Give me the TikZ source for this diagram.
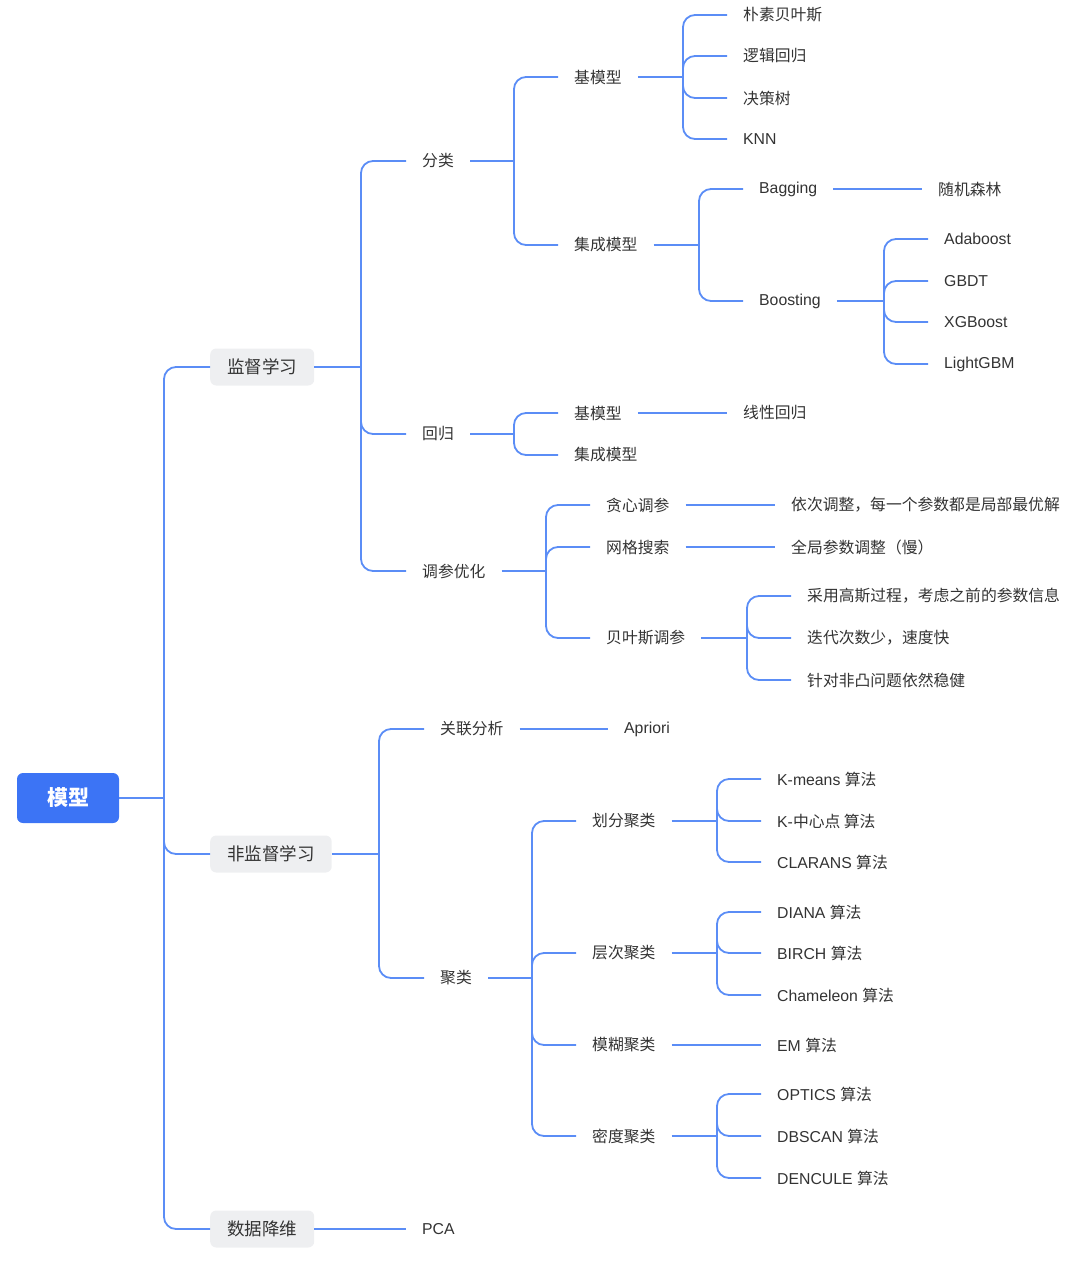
\documentclass[tikz,border=0pt]{standalone}
\usepackage{fontspec}
\setmainfont{Liberation Sans}
\newfontfamily\cjk{Noto Sans CJK SC}
\usetikzlibrary{calc}
\definecolor{conncol}{HTML}{5B8DF6}
\definecolor{rootcol}{HTML}{3C74F5}
\definecolor{boxcol}{HTML}{EEEFF1}
\definecolor{txtcol}{HTML}{333333}
\tikzset{
  conn/.style={draw=conncol, line width=1.8pt, rounded corners=12pt},
  leaf/.style={anchor=west, inner xsep=16pt, inner ysep=0pt, text=txtcol,
    font=\fontsize{15.8}{18}\selectfont},
  lvlone/.style={fill=boxcol, rounded corners=6pt, minimum height=37pt,
    inner xsep=17pt, inner ysep=0pt, text=txtcol,
    font=\fontsize{17.5}{20}\selectfont\cjk},
  rootbox/.style={fill=rootcol, rounded corners=6pt, minimum width=102pt,
    minimum height=50pt, text=white, font=\fontsize{21}{24}\selectfont\cjk\bfseries}
}
\begin{document}
\begin{tikzpicture}[x=1pt,y=-1pt]
\useasboundingbox (0,0) rectangle (1080,1261);
% root and level one
\node[rootbox] (root) at (68,798) {模型};
\node[lvlone, anchor=west] (jd) at (210,367) {监督学习};
\node[lvlone, anchor=west] (fj) at (210,854) {非监督学习};
\node[lvlone, anchor=west] (sj) at (210,1229) {数据降维};
% level two
\node[leaf] (fl) at (406,161) {\cjk 分类};
\node[leaf] (hg) at (406,434) {\cjk 回归};
\node[leaf] (tc) at (406,571) {\cjk 调参优化};
\node[leaf] (gl) at (424,729) {\cjk 关联分析};
\node[leaf] (jl) at (424,978) {\cjk 聚类};
\node[leaf] (pca) at (406,1229) {PCA};
% level three
\node[leaf] (jmx1) at (558,77) {\cjk 基模型};
\node[leaf] (jc1) at (558,245) {\cjk 集成模型};
\node[leaf] (jmx2) at (558,413) {\cjk 基模型};
\node[leaf] (jc2) at (558,455) {\cjk 集成模型};
\node[leaf] (tx) at (590,505) {\cjk 贪心调参};
\node[leaf] (wg) at (590,547) {\cjk 网格搜索};
\node[leaf] (by) at (590,638) {\cjk 贝叶斯调参};
\node[leaf] (apr) at (608,729) {Apriori};
\node[leaf] (hf) at (576,821) {\cjk 划分聚类};
\node[leaf] (cc) at (576,953) {\cjk 层次聚类};
\node[leaf] (mh) at (576,1045) {\cjk 模糊聚类};
\node[leaf] (md) at (576,1136) {\cjk 密度聚类};
% level four
\node[leaf] (pb) at (727,15) {\cjk 朴素贝叶斯};
\node[leaf] (lj) at (727,56) {\cjk 逻辑回归};
\node[leaf] (jcs) at (727,98) {\cjk 决策树};
\node[leaf] (knn) at (727,139) {KNN};
\node[leaf] (bag) at (743,189) {Bagging};
\node[leaf] (boo) at (743,301) {Boosting};
\node[leaf] (xx) at (727,413) {\cjk 线性回归};
\node[leaf] (yc) at (775,505) {\cjk 依次调整，每一个参数都是局部最优解};
\node[leaf] (qj) at (775,547) {\cjk 全局参数调整（慢）};
\node[leaf] (cy) at (791,596) {\cjk 采用高斯过程，考虑之前的参数信息};
\node[leaf] (dd) at (791,638) {\cjk 迭代次数少，速度快};
\node[leaf] (zd) at (791,680) {\cjk 针对非凸问题依然稳健};
\node[leaf] (km) at (761,779) {K-means {\cjk 算法}};
\node[leaf] (kz) at (761,821) {K-{\cjk 中心点 算法}};
\node[leaf] (cl) at (761,862) {CLARANS {\cjk 算法}};
\node[leaf] (di) at (761,912) {DIANA {\cjk 算法}};
\node[leaf] (bi) at (761,953) {BIRCH {\cjk 算法}};
\node[leaf] (ch) at (761,995) {Chameleon {\cjk 算法}};
\node[leaf] (em) at (761,1045) {EM {\cjk 算法}};
\node[leaf] (op) at (761,1094) {OPTICS {\cjk 算法}};
\node[leaf] (db) at (761,1136) {DBSCAN {\cjk 算法}};
\node[leaf] (de) at (761,1178) {DENCULE {\cjk 算法}};
% level five
\node[leaf] (sl) at (922,189) {\cjk 随机森林};
\node[leaf] (ada) at (928,239) {Adaboost};
\node[leaf] (gb) at (928,281) {GBDT};
\node[leaf] (xg) at (928,322) {XGBoost};
\node[leaf] (lg) at (928,364) {LightGBM};
% trunk coordinates
\coordinate (tRoot) at (164,798);
\coordinate (tJD) at (361,367);
\coordinate (tFL) at (514,161);
\coordinate (tJM) at (683,77);
\coordinate (tJC) at (699,245);
\coordinate (tBO) at (884,301);
\coordinate (tHG) at (514,434);
\coordinate (tTC) at (546,571);
\coordinate (tBY) at (747,638);
\coordinate (tFJ) at (379,854);
\coordinate (tJL) at (532,978);
\coordinate (tHF) at (717,821);
\coordinate (tCC) at (717,953);
\coordinate (tMD) at (717,1136);
% connectors
\draw[conn] (root.east) -- (tRoot);
\foreach \c in {jd,fj,sj} \draw[conn] (tRoot) |- (\c.west);
\draw[conn] (jd.east) -- (tJD);
\foreach \c in {fl,hg,tc} \draw[conn] (tJD) |- (\c.west);
\draw[conn] (fl.east) -- (tFL);
\foreach \c in {jmx1,jc1} \draw[conn] (tFL) |- (\c.west);
\draw[conn] (jmx1.east) -- (tJM);
\foreach \c in {pb,lj,jcs,knn} \draw[conn] (tJM) |- (\c.west);
\draw[conn] (jc1.east) -- (tJC);
\foreach \c in {bag,boo} \draw[conn] (tJC) |- (\c.west);
\draw[conn] (bag.east) -- (sl.west);
\draw[conn] (boo.east) -- (tBO);
\foreach \c in {ada,gb,xg,lg} \draw[conn] (tBO) |- (\c.west);
\draw[conn] (hg.east) -- (tHG);
\foreach \c in {jmx2,jc2} \draw[conn] (tHG) |- (\c.west);
\draw[conn] (jmx2.east) -- (xx.west);
\draw[conn] (tc.east) -- (tTC);
\foreach \c in {tx,wg,by} \draw[conn] (tTC) |- (\c.west);
\draw[conn] (tx.east) -- (yc.west);
\draw[conn] (wg.east) -- (qj.west);
\draw[conn] (by.east) -- (tBY);
\foreach \c in {cy,dd,zd} \draw[conn] (tBY) |- (\c.west);
\draw[conn] (fj.east) -- (tFJ);
\foreach \c in {gl,jl} \draw[conn] (tFJ) |- (\c.west);
\draw[conn] (gl.east) -- (apr.west);
\draw[conn] (jl.east) -- (tJL);
\foreach \c in {hf,cc,mh,md} \draw[conn] (tJL) |- (\c.west);
\draw[conn] (hf.east) -- (tHF);
\foreach \c in {km,kz,cl} \draw[conn] (tHF) |- (\c.west);
\draw[conn] (cc.east) -- (tCC);
\foreach \c in {di,bi,ch} \draw[conn] (tCC) |- (\c.west);
\draw[conn] (mh.east) -- (em.west);
\draw[conn] (md.east) -- (tMD);
\foreach \c in {op,db,de} \draw[conn] (tMD) |- (\c.west);
\draw[conn] (sj.east) -- (pca.west);
\end{tikzpicture}
\end{document}
